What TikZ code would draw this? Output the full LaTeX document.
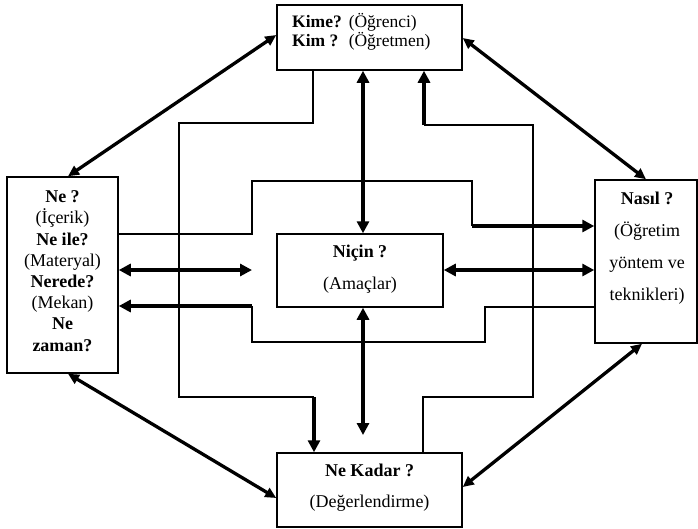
\documentclass[tikz,border=0pt]{standalone}
\usepackage{fontspec}
\setmainfont{Liberation Serif}
\usetikzlibrary{arrows.meta}
\tikzset{
  box/.style={draw=black, line width=1.5pt, rectangle, inner sep=0pt},
  lbl/.style={inner sep=0pt, align=center},
  wire/.style={draw=black, line width=1.4pt},
  heavy/.style={draw=black, line width=3.3pt},
  tip/.style={-{Triangle[length=12pt,width=12pt]}},
  tips/.style={{Triangle[length=12pt,width=12pt]}-{Triangle[length=12pt,width=12pt]}},
  dtips/.style={{Triangle[length=11pt,width=10pt]}-{Triangle[length=11pt,width=10pt]}},
}
\begin{document}
\begin{tikzpicture}[x=1pt,y=-1pt]
\useasboundingbox[fill=white] (0,0) rectangle (698,528);
% boxes
\node[box, minimum width=185pt, minimum height=65pt] (T) at (369.5,37.5) {};
\node[box, minimum width=111pt, minimum height=196pt] (L) at (62.5,275) {};
\node[box, minimum width=102pt, minimum height=163pt] (R) at (646,261.5) {};
\node[box, minimum width=166pt, minimum height=73pt] (C) at (360,270.5) {};
\node[box, minimum width=185pt, minimum height=74pt] (B) at (369.5,490) {};
% labels
\node[lbl, anchor=west, font=\fontsize{17.5}{20}\selectfont] (Tt) at (292,33)
  {\begin{tabular}{@{}l@{\hspace{7pt}}l@{}}\textbf{Kime?} & (Öğrenci)\\[-1pt] \textbf{Kim ?} & (Öğretmen)\end{tabular}};
\node[lbl, font=\fontsize{18}{21.2}\selectfont] (Lt) at (62.5,271)
  {\textbf{Ne ?}\\(İçerik)\\\textbf{Ne ile?}\\(Materyal)\\\textbf{Nerede?}\\(Mekan)\\\textbf{Ne}\\\textbf{zaman?}};
\node[lbl, font=\fontsize{18}{32}\selectfont] (Rt) at (647,248)
  {\textbf{Nasıl ?}\\(Öğretim\\yöntem ve\\teknikleri)};
\node[lbl, font=\fontsize{18}{32}\selectfont] (Ct) at (360,269)
  {\textbf{Niçin ?}\\(Amaçlar)};
\node[lbl, font=\fontsize{18}{31}\selectfont] (Bt) at (369.5,488)
  {\textbf{Ne Kadar ?}\\(Değerlendirme)};
% free ends
\coordinate (cm) at (363,435);
\coordinate (lm) at (252,270);
% left loop: top -> bottom
\draw[wire] (T.south -| 313,0) -- (313,123) -- (179,123) -- (179,397) -- (314,397);
\draw[heavy, tip] (314,397) -- (B.north -| 314,0);
% right loop: bottom -> top
\draw[wire] (B.north -| 423,0) -- (423,397) -- (533,397) -- (533,125) -- (424,125);
\draw[heavy, tip] (424,125) -- (T.south -| 424,0);
% central verticals
\draw[heavy, tips] (T.south -| 363,0) -- (C.north -| 363,0);
\draw[heavy, tips] (C.south -| 363,0) -- (cm);
% upper loop: left -> right
\draw[wire] (L.east |- 0,234) -- (252,234) -- (252,181) -- (472,181) -- (472,226);
\draw[heavy, tip] (472,226) -- (R.west |- 0,226);
% lower loop: right -> left
\draw[wire] (R.west |- 0,307) -- (485,307) -- (485,342) -- (252,342) -- (252,306);
\draw[heavy, tip] (252,306) -- (L.east |- 0,306);
% middle horizontals
\draw[heavy, tips] (L.east |- 0,270) -- (lm);
\draw[heavy, tips] (C.east |- 0,270) -- (R.west |- 0,270);
% diagonals
\draw[heavy, dtips] (T.west |- 0,35) -- (L.north -| 68,0);
\draw[heavy, dtips] (T.east |- 0,38) -- (R.north -| 646,0);
\draw[heavy, dtips] (L.south -| 68,0) -- (B.west |- 0,498);
\draw[heavy, dtips] (R.south -| 642,0) -- (B.east |- 0,487);
\end{tikzpicture}
\end{document}
